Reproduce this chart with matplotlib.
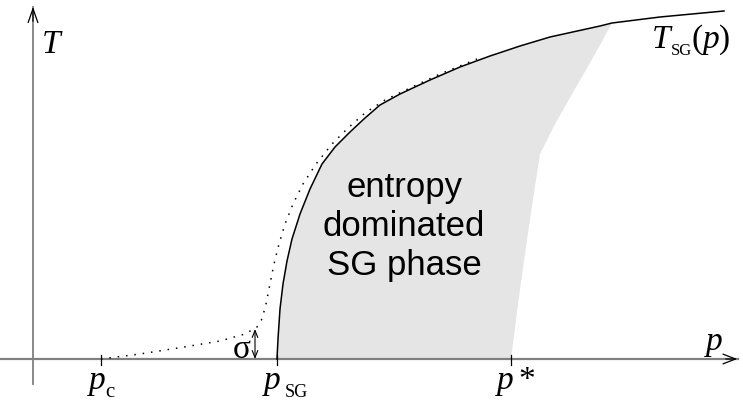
import matplotlib
matplotlib.use('Agg')
import matplotlib.pyplot as plt

plt.rcParams['font.family'] = 'Liberation Serif'
plt.rcParams['mathtext.fontset'] = 'custom'
plt.rcParams['mathtext.it'] = 'Liberation Serif:italic'
plt.rcParams['mathtext.rm'] = 'Liberation Serif'

# schematic phase diagram; p to the right, T upward (sketch units)
p_sg_curve = [277, 278, 280, 283, 287, 292, 300, 310, 322, 335, 350, 365, 380, 400, 430, 460, 490, 520, 550, 600, 612, 660, 724]
T_sg_curve = [0, 20, 50, 75, 98, 120, 145, 170, 195, 212, 227, 241, 254, 265, 279, 292, 303, 313, 322, 333, 336, 342, 348]

p_dotted = [101, 140, 178, 220, 245, 257, 262, 266, 270, 274, 279, 285, 293, 303, 316, 332, 348, 365, 385, 410, 440, 477]
T_dotted = [0, 5, 11, 18, 25, 32, 40, 55, 75, 95, 115, 135, 155, 175, 195, 215, 231, 246, 259, 271, 285, 300]

p_edge = [511, 520, 530, 540, 555, 575, 595, 612]
T_edge = [0, 70, 140, 205, 235, 270, 305, 336]

p_ticks = [101, 277, 511]
sigma_p = 255
sigma_T = 30

fig = plt.figure(figsize=(7.43, 4.02), dpi=100)
ax = fig.add_axes([0, 0, 1, 1])
ax.set_xlim(0, 743)
ax.set_ylim(-42, 360)
ax.axis('off')

# shaded region between T_SG(p) and the p* boundary
n = sum(1 for x in p_sg_curve if x <= p_edge[-1])
ax.fill(p_sg_curve[:n] + p_edge[::-1], T_sg_curve[:n] + T_edge[::-1],
        color='#e5e5e5', lw=0, zorder=0)

# axes
ax.plot([0, 738], [0, 0], color='#808080', lw=1.6)
ax.plot([33, 33], [-25, 352], color='#808080', lw=1.3)
ax.annotate('', xy=(740, 0), xytext=(723, 0),
            arrowprops=dict(arrowstyle='->,head_length=0.9,head_width=0.35', color='black', lw=0.9))
ax.annotate('', xy=(33, 355), xytext=(33, 335),
            arrowprops=dict(arrowstyle='->,head_length=1.0,head_width=0.35', color='black', lw=0.9))

for x in p_ticks:
    ax.plot([x, x], [-6, 4], color='black', lw=0.9)

ax.plot(p_dotted, T_dotted, color='black', lw=1.1, linestyle=(0, (1, 4.5)))
ax.plot(p_sg_curve, T_sg_curve, color='black', lw=1.1)

ax.annotate('', xy=(sigma_p, sigma_T), xytext=(sigma_p, 0),
            arrowprops=dict(arrowstyle='<->,head_length=0.5,head_width=0.2', color='black', lw=0.8,
                            shrinkA=0, shrinkB=0))

fs = 24
it = dict(fontsize=fs, fontstyle='italic', ha='left', va='baseline')

ax.text(42, 307, 'T', **it)
ax.text(652, 312, 'T', **it)
ax.text(671, 305, 'SG', fontsize=12, ha='left', va='baseline')
ax.text(691, 312, r'$(p)$', fontsize=fs, ha='left', va='baseline')
ax.text(706, 10, 'p', **it)

ax.text(89, -29, 'p', **it)
ax.text(105, -37, 'c', fontsize=15, ha='left', va='baseline')
ax.text(264, -29, 'p', **it)
ax.text(285, -37, 'SG', fontsize=13, ha='left', va='baseline')
ax.text(497, -29, 'p', **it)
ax.text(518, -29, '*', fontsize=fs, ha='left', va='baseline')
ax.text(233, 2, 'σ', fontsize=fs, ha='left', va='baseline')

for label, y in zip(['entropy', 'dominated', 'SG phase'], [172, 133, 94]):
    ax.text(404, y, label, fontsize=25, family='Liberation Sans', ha='center', va='center')

fig.savefig('out.png', dpi=100)
